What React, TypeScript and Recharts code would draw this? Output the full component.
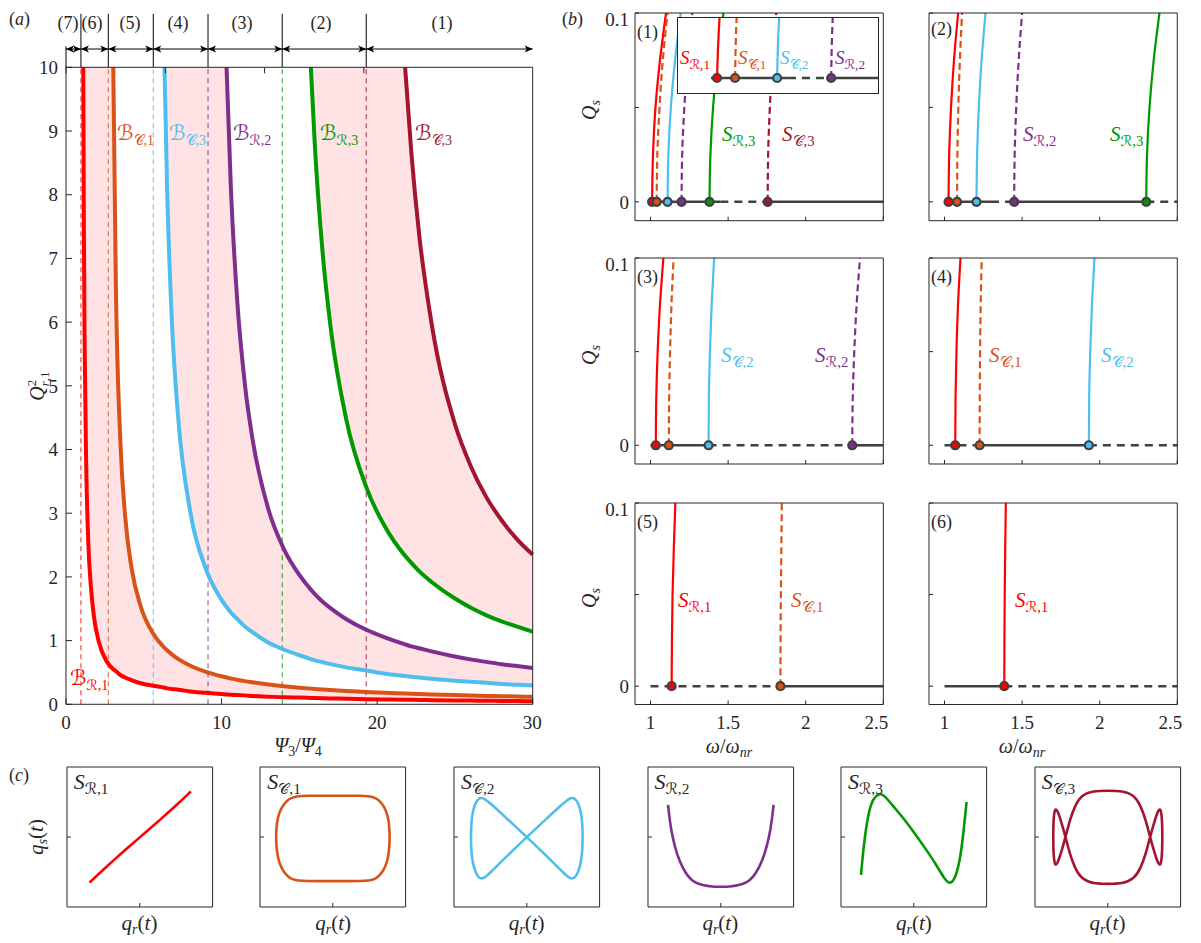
import React from 'react';
import { ComposedChart, Line, Area, Scatter, XAxis, YAxis, ReferenceLine } from 'recharts';

const INK = '#262626';
const BASE = '#404040';
const RED = '#ff0000';
const ORANGE = '#d95319';
const SKY = '#4dbeee';
const PURPLE = '#7e2f8e';
const GREEN = '#009900';
const WINE = '#a2142f';
const SHADE = '#ffe2e4';
const SERIF = '"Liberation Serif", "DejaVu Serif", "DejaVu Sans", serif';

// ---------- (a) boundaries Q_{r,1}^2 vs Psi3/Psi4 ----------
const psiGrid = [
  1.11, 1.15, 1.2, 1.3, 1.43, 1.6, 1.8, 2.1, 2.6, 3.04, 3.2, 3.5, 3.8, 4.2, 4.8, 5.6,
  6.33, 6.5, 6.8, 7.2, 8, 9, 10, 10.32, 10.6, 11, 11.5, 12, 13, 14, 15, 15.74, 16,
  16.5, 17, 18, 19.3, 20.5, 21.8, 22.2, 22.7, 23.5, 25, 26, 27, 28, 29, 30,
];
// each boundary lists the tail of psiGrid, starting where it enters the plot at Q^2 = 10
const bndR1 = [
  10, 7.4, 5.6, 3.75, 2.56, 1.85, 1.37, 0.99, 0.68, 0.55, 0.52, 0.46, 0.42, 0.38, 0.33, 0.29,
  0.26, 0.25, 0.24, 0.23, 0.2, 0.18, 0.16, 0.155, 0.15, 0.145, 0.14, 0.13, 0.12, 0.11, 0.105, 0.1, 0.098,
  0.095, 0.092, 0.087, 0.081, 0.076, 0.071, 0.07, 0.068, 0.065, 0.06, 0.058, 0.055, 0.053, 0.05, 0.048,
];
const bndC1 = [
  10, 6.67, 4.1, 2.96, 2.16, 1.54, 1.11, 0.886, 0.847, 0.784, 0.714, 0.606, 0.51, 0.44, 0.42,
  0.406, 0.386, 0.364, 0.345, 0.311, 0.284, 0.261, 0.246, 0.241, 0.232, 0.224, 0.209, 0.193,
  0.18, 0.168, 0.164, 0.16, 0.154, 0.144, 0.137, 0.132, 0.127, 0.122, 0.117,
];
const bndSky = [
  10, 8.09, 6.05, 4.53, 3.01, 2.12, 1.64, 1.53, 1.44, 1.34, 1.22, 1.13, 0.97, 0.86, 0.77, 0.71,
  0.69, 0.66, 0.63, 0.58, 0.53, 0.48, 0.445, 0.434, 0.421, 0.4, 0.371, 0.353, 0.337, 0.32, 0.308, 0.295,
];
const bndR2 = [
  10, 8.1, 6.36, 5.02, 4.15, 3.07, 2.44, 2.03, 1.8, 1.73, 1.61, 1.51, 1.34, 1.17, 1.05, 0.94,
  0.91, 0.88, 0.83, 0.75, 0.705, 0.666, 0.63, 0.6, 0.57,
];
const bndR3 = [10, 8.76, 7.08, 5.94, 4.49, 3.41, 2.79, 2.33, 2.22, 2.09, 1.92, 1.66, 1.52, 1.4, 1.3, 1.22, 1.14];
const bndWine = [10, 8.66, 7.38, 5.98, 4.4, 3.75, 3.26, 2.89, 2.59, 2.35];

const asymptotes = [0.96, 2.72, 5.61, 9.13, 13.9, 19.3];
const asymptoteColors = [RED, ORANGE, SKY, PURPLE, GREEN, WINE];
const regionEdges = [0, 0.96, 2.72, 5.61, 9.13, 13.9, 19.3, 30];
const regionNames = ['(7)', '(6)', '(5)', '(4)', '(3)', '(2)', '(1)'];

// ---------- (b) bifurcation diagrams, Q_s vs omega/omega_nr ----------
const qsLevels = [0, 0.025, 0.05, 0.075, 0.1];

const p1R1 = [1.01, 1.016, 1.032, 1.061, 1.1];
const p1C1 = [1.04, 1.044, 1.058, 1.079, 1.11];
const p1C2 = [1.11, 1.115, 1.131, 1.158, 1.195];
const p1R2 = [1.2, 1.204, 1.218, 1.239, 1.27];
const p1R3 = [1.38, 1.386, 1.403, 1.431, 1.47];
const p1C3 = [1.755, 1.758, 1.769, 1.786, 1.81];
const p1Solid = [[1.0, 1.128], [1.2, 1.45], [1.755, 2.5]];
const p1Dashed = [[1.128, 1.2], [1.45, 1.755]];

const p2R1 = [1.026, 1.03, 1.042, 1.061, 1.088];
const p2C1 = [1.081, 1.083, 1.089, 1.099, 1.113];
const p2C2 = [1.206, 1.21, 1.221, 1.239, 1.264];
const p2R2 = [1.449, 1.452, 1.462, 1.478, 1.5];
const p2R3 = [2.3, 2.305, 2.321, 2.348, 2.385];
const p2Solid = [[1.0, 1.3], [1.449, 2.3]];
const p2Dashed = [[1.3, 1.449], [2.3, 2.5]];

const p3R1 = [1.034, 1.037, 1.046, 1.061, 1.083];
const p3C1 = [1.118, 1.12, 1.126, 1.135, 1.149];
const p3C2 = [1.374, 1.376, 1.383, 1.394, 1.41];
const p3R2 = [2.3, 2.303, 2.313, 2.328, 2.35];
const p3Solid = [[1.0, 1.374], [2.3, 2.5]];
const p3Dashed = [[1.374, 2.3]];

const p4R1 = [1.069, 1.071, 1.077, 1.087, 1.103];
const p4C1 = [1.226, 1.227, 1.229, 1.233, 1.24];
const p4C2 = [1.93, 1.932, 1.939, 1.95, 1.966];
const p4Solid = [[1.226, 1.93]];
const p4Dashed = [[1.0, 1.226], [1.93, 2.5]];

const p5R1 = [1.136, 1.138, 1.142, 1.15, 1.16];
const p5C1 = [1.837, 1.838, 1.84, 1.843, 1.846];
const p5Solid = [[1.837, 2.5]];
const p5Dashed = [[1.0, 1.837]];

const p6R1 = [1.385, 1.386, 1.388, 1.391, 1.395];
const p6Solid = [[1.0, 1.385]];
const p6Dashed = [[1.385, 2.5]];

// ---------- (c) phase portraits q_s(t) vs q_r(t), normalised ----------
const sr1X = [-0.69, -0.5, -0.3, -0.1, 0.1, 0.3, 0.5, 0.7];
const sr1Y = [-0.65, -0.465, -0.275, -0.095, 0.085, 0.265, 0.45, 0.65];
const sc1X = [
  0, -0.2, -0.355, -0.47, -0.58, -0.64, -0.69, -0.735, -0.76, -0.775, -0.78, -0.775, -0.76, -0.735,
  -0.69, -0.64, -0.58, -0.47, -0.355, -0.2, 0, 0.2, 0.38, 0.49, 0.59, 0.65, 0.7, 0.74, 0.765, 0.778,
  0.782, 0.778, 0.765, 0.74, 0.7, 0.65, 0.59, 0.49, 0.38, 0.2,
];
const sc1Y = [
  0.59, 0.59, 0.59, 0.585, 0.56, 0.51, 0.44, 0.35, 0.25, 0.12, 0, -0.12, -0.26, -0.37,
  -0.47, -0.54, -0.6, -0.625, -0.63, -0.63, -0.63, -0.63, -0.63, -0.625, -0.6, -0.54, -0.47, -0.37, -0.26, -0.12,
  0, 0.12, 0.25, 0.35, 0.44, 0.51, 0.56, 0.585, 0.59, 0.59,
];
const sc2X = [0, 0.3, 0.52, 0.62, 0.7, 0.76, 0.77, 0.76, 0.7, 0.62, 0.52, 0.3, 0, -0.3, -0.52, -0.62, -0.7, -0.76, -0.77, -0.76, -0.7, -0.62, -0.52, -0.3];
const sc2Y = [0, 0.29, 0.5, 0.58, 0.52, 0.3, 0, -0.3, -0.54, -0.62, -0.53, -0.3, 0, 0.29, 0.5, 0.58, 0.52, 0.3, 0, -0.3, -0.54, -0.62, -0.53, -0.3];
const sr2X = [-0.725, -0.7, -0.66, -0.6, -0.52, -0.44, -0.36, -0.25, -0.12, 0, 0.12, 0.25, 0.36, 0.44, 0.52, 0.6, 0.66, 0.7, 0.725];
const sr2Y = [0.46, 0.22, -0.02, -0.26, -0.45, -0.58, -0.65, -0.69, -0.71, -0.71, -0.71, -0.69, -0.65, -0.58, -0.45, -0.26, -0.02, 0.22, 0.46];
const sr3X = [-0.725, -0.7, -0.67, -0.63, -0.58, -0.52, -0.46, -0.4, -0.3, -0.15, 0, 0.15, 0.3, 0.42, 0.48, 0.53, 0.58, 0.63, 0.67, 0.7, 0.725];
const sr3Y = [-0.54, -0.25, 0.02, 0.3, 0.5, 0.59, 0.62, 0.59, 0.46, 0.28, 0.07, -0.15, -0.38, -0.6, -0.66, -0.65, -0.55, -0.35, -0.05, 0.25, 0.5];
const sc3X = [-0.58, -0.52, -0.45, -0.36, -0.2, 0, 0.2, 0.36, 0.45, 0.52, 0.58, 0.64, 0.69, 0.73, 0.75, 0.75, 0.73, 0.69, 0.64, 0.58, 0.52, 0.45, 0.36, 0.2, 0, -0.2, -0.36, -0.45, -0.52, -0.58, -0.64, -0.69, -0.73, -0.75, -0.75, -0.73, -0.69, -0.64];
const sc3Y = [0, 0.25, 0.45, 0.6, 0.66, 0.66, 0.66, 0.6, 0.45, 0.25, 0, -0.22, -0.38, -0.42, -0.2, 0.2, 0.42, 0.38, 0.22, 0, -0.25, -0.45, -0.6, -0.67, -0.67, -0.67, -0.6, -0.45, -0.25, 0, 0.22, 0.38, 0.42, 0.2, -0.2, -0.42, -0.38, -0.22];

// ---------- tables ----------
const tail = (arr: number[], i: number) => {
  const k = i - (psiGrid.length - arr.length);
  return k >= 0 ? arr[k] : null;
};
const boundaryRows = psiGrid.map((x, i) => {
  const r1 = tail(bndR1, i);
  const c1 = tail(bndC1, i);
  const sky = tail(bndSky, i);
  const r2 = tail(bndR2, i);
  const r3 = tail(bndR3, i);
  const wine = tail(bndWine, i);
  return {
    x, r1, c1, sky, r2, r3, wine,
    band1: r1 != null ? [r1, c1 ?? 10] : null,
    band2: sky != null ? [sky, r2 ?? 10] : null,
    band3: r3 != null ? [r3, wine ?? 10] : null,
  };
});

type Branch = { xs: number[]; color: string; dashed: boolean };
const br = (xs: number[], color: string) => ({ xs, color, dashed: color === ORANGE || color === PURPLE || color === WINE });

const LEFT_X = 635.2;
const RIGHT_X = 928.5;
const PB_W = 248.3;

const bifPanels = [
  { x: LEFT_X, y: 13.3, h: 207.7, branches: [br(p1R1, RED), br(p1C1, ORANGE), br(p1C2, SKY), br(p1R2, PURPLE), br(p1R3, GREEN), br(p1C3, WINE)], solid: p1Solid, dashed: p1Dashed, yLab: true, xLab: false },
  { x: RIGHT_X, y: 13.3, h: 207.7, branches: [br(p2R1, RED), br(p2C1, ORANGE), br(p2C2, SKY), br(p2R2, PURPLE), br(p2R3, GREEN)], solid: p2Solid, dashed: p2Dashed, yLab: false, xLab: false },
  { x: LEFT_X, y: 258, h: 206, branches: [br(p3R1, RED), br(p3C1, ORANGE), br(p3C2, SKY), br(p3R2, PURPLE)], solid: p3Solid, dashed: p3Dashed, yLab: true, xLab: false },
  { x: RIGHT_X, y: 258, h: 206, branches: [br(p4R1, RED), br(p4C1, ORANGE), br(p4C2, SKY)], solid: p4Solid, dashed: p4Dashed, yLab: false, xLab: false },
  { x: LEFT_X, y: 503, h: 201.5, branches: [br(p5R1, RED), br(p5C1, ORANGE)], solid: p5Solid, dashed: p5Dashed, yLab: true, xLab: true },
  { x: RIGHT_X, y: 503, h: 201.5, branches: [br(p6R1, RED)], solid: p6Solid, dashed: p6Dashed, yLab: false, xLab: true },
];

const phaseBoxes = [
  { xs: sr1X, ys: sr1Y, color: RED, closed: false },
  { xs: sc1X, ys: sc1Y, color: ORANGE, closed: true },
  { xs: sc2X, ys: sc2Y, color: SKY, closed: true },
  { xs: sr2X, ys: sr2Y, color: PURPLE, closed: false },
  { xs: sr3X, ys: sr3Y, color: GREEN, closed: false },
  { xs: sc3X, ys: sc3Y, color: WINE, closed: true },
];
const BOX_LEFT = 66.7;
const BOX_STEP = 193.6;
const BOX_TOP = 767.3;
const BOX_W = 145.6;
const BOX_H = 140;

const tickFont = { fill: INK, fontSize: 19, fontFamily: SERIF };
const blank = () => '';

// ---------- small drawing helpers ----------
const arrowShape = (p: any) => {
  const { x1, x2, y1 } = p;
  const head = (tip: number, dir: number) =>
    `M${tip},${y1} L${tip - dir * 8},${y1 - 3.5} L${tip - dir * 6},${y1} L${tip - dir * 8},${y1 + 3.5} Z`;
  return (
    <g>
      <line x1={x1} y1={y1} x2={x2} y2={y1} stroke="#000" strokeWidth={1} />
      <path d={head(x1, -1)} fill="#000" />
      <path d={head(x2, 1)} fill="#000" />
    </g>
  );
};

const dotShape = (p: any) => (
  <circle cx={p.cx} cy={p.cy} r={4} fill={p.payload.c} stroke={BASE} strokeWidth={2.2} />
);

function BoundaryChart() {
  return (
    <div style={{ position: 'absolute', left: 0, top: 0 }}>
      <ComposedChart width={541.7} height={745} data={boundaryRows} margin={{ top: 66.3, right: 8, bottom: 8, left: 26 }}>
        <XAxis type="number" dataKey="x" domain={[0, 30]} ticks={[0, 10, 20, 30]} height={32.7} stroke={INK} tickSize={-6} tickMargin={17.7} tick={tickFont} />
        <XAxis xAxisId="top" orientation="top" type="number" domain={[0, 30]} ticks={[0, 10, 20, 30]} height={1} stroke={INK} tickSize={-6} tickFormatter={blank} />
        <YAxis type="number" domain={[0, 10]} ticks={[0, 1, 2, 3, 4, 5, 6, 7, 8, 9, 10]} width={40} stroke={INK} tickSize={-6} tickMargin={14} tick={tickFont} />
        <YAxis yAxisId="right" orientation="right" type="number" domain={[0, 10]} ticks={[0, 1, 2, 3, 4, 5, 6, 7, 8, 9, 10]} width={1} stroke={INK} tickSize={-6} tickFormatter={blank} />
        <Area dataKey="band1" type="monotone" stroke="none" fill={SHADE} fillOpacity={1} isAnimationActive={false} />
        <Area dataKey="band2" type="monotone" stroke="none" fill={SHADE} fillOpacity={1} isAnimationActive={false} />
        <Area dataKey="band3" type="monotone" stroke="none" fill={SHADE} fillOpacity={1} isAnimationActive={false} />
        {asymptotes.map((v, i) => (
          <ReferenceLine key={'as' + i} x={v} stroke={asymptoteColors[i]} strokeOpacity={0.75} strokeDasharray="5 4" strokeWidth={1.2} />
        ))}
        {asymptotes.map((v) => (
          <ReferenceLine key={'sep' + v} segment={[{ x: v, y: 10 }, { x: v, y: 10.84 }]} stroke="#000" strokeWidth={1} ifOverflow="visible" />
        ))}
        <ReferenceLine segment={[{ x: 0, y: 10 }, { x: 0, y: 10.33 }]} stroke="#000" strokeWidth={1} ifOverflow="visible" />
        {regionNames.map((n, i) => (
          <ReferenceLine key={n} segment={[{ x: regionEdges[i], y: 10.287 }, { x: regionEdges[i + 1], y: 10.287 }]} ifOverflow="visible" shape={arrowShape} />
        ))}
        <Line dataKey="r1" type="monotone" stroke={RED} strokeWidth={4} dot={false} activeDot={false} isAnimationActive={false} />
        <Line dataKey="c1" type="monotone" stroke={ORANGE} strokeWidth={4} dot={false} activeDot={false} isAnimationActive={false} />
        <Line dataKey="sky" type="monotone" stroke={SKY} strokeWidth={4} dot={false} activeDot={false} isAnimationActive={false} />
        <Line dataKey="r2" type="monotone" stroke={PURPLE} strokeWidth={4} dot={false} activeDot={false} isAnimationActive={false} />
        <Line dataKey="r3" type="monotone" stroke={GREEN} strokeWidth={4} dot={false} activeDot={false} isAnimationActive={false} />
        <Line dataKey="wine" type="monotone" stroke={WINE} strokeWidth={4} dot={false} activeDot={false} isAnimationActive={false} />
      </ComposedChart>
    </div>
  );
}

function bifSeries(branches: Branch[], solid: number[][], dashed: number[][], key: string) {
  const out: React.ReactNode[] = [];
  solid.forEach((s, i) => out.push(
    <Line key={key + 's' + i} data={[{ x: s[0], y: 0 }, { x: s[1], y: 0 }]} dataKey="y" type="linear" stroke={BASE} strokeWidth={2.6} dot={false} activeDot={false} isAnimationActive={false} />,
  ));
  dashed.forEach((s, i) => out.push(
    <Line key={key + 'd' + i} data={[{ x: s[0], y: 0 }, { x: s[1], y: 0 }]} dataKey="y" type="linear" stroke={BASE} strokeWidth={2.6} strokeDasharray="8 6" dot={false} activeDot={false} isAnimationActive={false} />,
  ));
  branches.forEach((b, i) => out.push(
    <Line key={key + 'b' + i} data={qsLevels.map((q, k) => ({ x: b.xs[k], y: q }))} dataKey="y" type="monotoneY" stroke={b.color} strokeWidth={2.2} strokeDasharray={b.dashed ? '7 4' : undefined} dot={false} activeDot={false} isAnimationActive={false} />,
  ));
  out.push(
    <Scatter key={key + 'pts'} data={branches.map((b) => ({ x: b.xs[0], y: 0, c: b.color }))} shape={dotShape} isAnimationActive={false} />,
  );
  return out;
}

function BifPanel({ x, y, h, branches, solid, dashed, yLab, xLab }: any) {
  const yW = 36;
  const xH = 26;
  const m = 4;
  return (
    <div style={{ position: 'absolute', left: x - yW - m, top: y - 1 - m }}>
      <ComposedChart width={m + yW + PB_W + 1 + m} height={m + 1 + h + xH + m} margin={{ top: m, right: m, bottom: m, left: m }}>
        <XAxis type="number" dataKey="x" domain={[0.9, 2.5]} ticks={[1, 1.5, 2, 2.5]} height={xH} stroke={INK} tickSize={-4} tickMargin={15.5} tick={tickFont} tickFormatter={xLab ? undefined : blank} />
        <XAxis xAxisId="top" orientation="top" type="number" domain={[0.9, 2.5]} ticks={[1, 1.5, 2, 2.5]} height={1} stroke={INK} tickSize={-4} tickFormatter={blank} />
        <YAxis type="number" dataKey="y" domain={[-0.01, 0.1]} ticks={[0, 0.05, 0.1]} width={yW} stroke={INK} tickSize={-4} tickMargin={10} tick={tickFont} tickFormatter={(v: number) => (yLab && v !== 0.05 ? String(v) : '')} />
        <YAxis yAxisId="right" orientation="right" type="number" domain={[-0.01, 0.1]} ticks={[0, 0.05, 0.1]} width={1} stroke={INK} tickSize={-4} tickFormatter={blank} />
        {bifSeries(branches, solid, dashed, 'p')}
      </ComposedChart>
    </div>
  );
}

// magnified view of the first diagram near omega/omega_nr = 1
function Inset() {
  const p = bifPanels[0];
  return (
    <div style={{ position: 'absolute', left: 677.3, top: 17.3, width: 202, height: 77, boxSizing: 'border-box', border: `1px solid ${INK}`, background: '#fff' }}>
      <ComposedChart width={200} height={75} margin={{ top: 0, right: 0, bottom: 0, left: 0 }}>
        <XAxis type="number" dataKey="x" domain={[0.945, 1.278]} hide allowDataOverflow />
        <YAxis type="number" dataKey="y" domain={[-0.005, 0.02]} hide allowDataOverflow />
        {bifSeries(p.branches.slice(0, 4), p.solid, p.dashed, 'i')}
      </ComposedChart>
    </div>
  );
}

function PhaseBox({ i, xs, ys, color, closed }: any) {
  const m = 3;
  const pts = xs.map((v: number, k: number) => ({ x: v, y: ys[k] }));
  return (
    <div style={{ position: 'absolute', left: BOX_LEFT + i * BOX_STEP - 1 - m, top: BOX_TOP - 1 - m }}>
      <ComposedChart width={m + 1 + BOX_W + 1 + m} height={m + 1 + BOX_H + 1 + m} margin={{ top: m, right: m, bottom: m, left: m }}>
        <XAxis type="number" dataKey="x" domain={[-1, 1]} ticks={[0]} height={1} stroke={INK} tickSize={-4} tickFormatter={blank} />
        <XAxis xAxisId="top" orientation="top" type="number" domain={[-1, 1]} ticks={[0]} height={1} stroke={INK} tickSize={-4} tickFormatter={blank} />
        <YAxis type="number" dataKey="y" domain={[-1, 1]} ticks={[0]} width={1} stroke={INK} tickSize={-4} tickFormatter={blank} />
        <YAxis yAxisId="right" orientation="right" type="number" domain={[-1, 1]} ticks={[0]} width={1} stroke={INK} tickSize={-4} tickFormatter={blank} />
        <Line data={pts} dataKey="y" type={closed ? 'basisClosed' : 'basis'} stroke={color} strokeWidth={2.6} dot={false} activeDot={false} isAnimationActive={false} />
      </ComposedChart>
    </div>
  );
}

// ---------- text ----------
type Run = { t: string; it?: boolean; size?: number; dx?: number; dy?: number };
function Tex({ x, y, runs, size = 20, fill = INK, anchor = 'start', rotate = 0 }: { x: number; y: number; runs: Run[]; size?: number; fill?: string; anchor?: 'start' | 'middle' | 'end'; rotate?: number }) {
  return (
    <text x={x} y={y} fill={fill} fontSize={size} fontFamily={SERIF} textAnchor={anchor} transform={rotate ? `rotate(${rotate} ${x} ${y})` : undefined}>
      {runs.map((r, k) => (
        <tspan key={k} fontStyle={r.it ? 'italic' : 'normal'} fontSize={r.size ?? size} dx={r.dx} dy={r.dy}>{r.t}</tspan>
      ))}
    </text>
  );
}

const sLab = (x: number, y: number, sub: string, fill: string, size = 21) => (
  <Tex key={`${x}-${y}-${sub}`} x={x} y={y} fill={fill} size={size} runs={[{ t: 'S', it: true }, { t: sub, size: size * 0.7, dy: 5 }]} />
);
const bLab = (x: number, y: number, sub: string, fill: string) => (
  <Tex key={`${x}-${sub}`} x={x} y={y} fill={fill} size={21} runs={[{ t: 'ℬ' }, { t: sub, size: 14, dy: 5 }]} />
);
const tag = (x: number, y: number, letter: string) => (
  <Tex key={letter} x={x} y={y} size={18} runs={[{ t: '(' }, { t: letter, it: true }, { t: ')' }]} />
);
const plain = (x: number, y: number, s: string, anchor: 'start' | 'middle' = 'start') => (
  <Tex key={`${s}-${x}-${y}`} x={x} y={y} size={18} anchor={anchor} runs={[{ t: s }]} />
);
const qrRuns: Run[] = [{ t: 'q', it: true }, { t: 'r', it: true, size: 14, dy: 4 }, { t: '(', dy: -4 }, { t: 't', it: true }, { t: ')' }];
const qsRuns: Run[] = [{ t: 'q', it: true }, { t: 's', it: true, size: 14, dy: 4 }, { t: '(', dy: -4 }, { t: 't', it: true }, { t: ')' }];
const omegaRuns: Run[] = [{ t: 'ω', it: true }, { t: '/' }, { t: 'ω', it: true }, { t: 'nr', it: true, size: 14, dy: 4 }];
const QsRuns: Run[] = [{ t: 'Q', it: true }, { t: 's', it: true, size: 14, dy: 4 }];

const regionLabelX = [68, 92, 130, 178, 242, 321, 442];
const boxLabels = ['ℛ,1', '𝒞,1', '𝒞,2', 'ℛ,2', 'ℛ,3', '𝒞,3'];

function Annotations() {
  return (
    <svg width={1201} height={943} style={{ position: 'absolute', left: 0, top: 0, pointerEvents: 'none' }}>
      {tag(9, 25, 'a')}
      {tag(562, 25, 'b')}
      {tag(9, 781, 'c')}
      {regionNames.map((n, i) => plain(regionLabelX[i], 29, n, 'middle'))}

      {/* (a) */}
      <Tex x={44} y={386} anchor="middle" rotate={-90} size={20} runs={[{ t: 'Q', it: true }, { t: '2', size: 13, dy: -8 }, { t: 'r', it: true, size: 13, dx: -6.5, dy: 13 }, { t: ',1', size: 13 }]} />
      <Tex x={298} y={752} anchor="middle" size={20} runs={[{ t: 'Ψ', it: true }, { t: '3', size: 14, dy: 4 }, { t: '/', dy: -4 }, { t: 'Ψ', it: true }, { t: '4', size: 14, dy: 4 }]} />
      {bLab(117, 140, '𝒞,1', ORANGE)}
      {bLab(169, 140, '𝒞,3', SKY)}
      {bLab(233, 140, 'ℛ,2', PURPLE)}
      {bLab(320, 140, 'ℛ,3', GREEN)}
      {bLab(415, 140, '𝒞,3', WINE)}
      {bLab(70, 685, 'ℛ,1', RED)}

      {/* (b) */}
      {plain(637, 38, '(1)')}
      {plain(931, 35, '(2)')}
      {plain(637, 283, '(3)')}
      {plain(931, 283, '(4)')}
      {plain(637, 528, '(5)')}
      {plain(931, 528, '(6)')}
      {sLab(722, 141, 'ℛ,3', GREEN)}
      {sLab(782, 141, '𝒞,3', WINE)}
      {sLab(680, 64, 'ℛ,1', RED, 19)}
      {sLab(738, 64, '𝒞,1', ORANGE, 19)}
      {sLab(780, 64, '𝒞,2', SKY, 19)}
      {sLab(835, 64, 'ℛ,2', PURPLE, 19)}
      {sLab(1023, 141, 'ℛ,2', PURPLE)}
      {sLab(1110, 141, 'ℛ,3', GREEN)}
      {sLab(721, 362, '𝒞,2', SKY)}
      {sLab(815, 362, 'ℛ,2', PURPLE)}
      {sLab(989, 362, '𝒞,1', ORANGE)}
      {sLab(1101, 362, '𝒞,2', SKY)}
      {sLab(678, 607, 'ℛ,1', RED)}
      {sLab(791, 607, '𝒞,1', ORANGE)}
      {sLab(1015, 607, 'ℛ,1', RED)}
      {[110, 355, 598].map((cy) => (
        <Tex key={'qs' + cy} x={596} y={cy} anchor="middle" rotate={-90} size={20} runs={QsRuns} />
      ))}
      <Tex x={729} y={753} anchor="middle" size={20} runs={omegaRuns} />
      <Tex x={1022} y={753} anchor="middle" size={20} runs={omegaRuns} />

      {/* (c) */}
      <Tex x={43} y={837} anchor="middle" rotate={-90} size={21} runs={qsRuns} />
      {boxLabels.map((sub, i) => sLab(BOX_LEFT + i * BOX_STEP + 7, 789, sub, INK, 22))}
      {boxLabels.map((_, i) => (
        <Tex key={'qr' + i} x={BOX_LEFT + i * BOX_STEP + BOX_W / 2} y={930} anchor="middle" size={21} runs={qrRuns} />
      ))}
    </svg>
  );
}

export default function App() {
  return (
    <div style={{ position: 'absolute', left: 0, top: 0, width: 1201, height: 943, background: '#fff' }}>
      <BoundaryChart />
      {bifPanels.map((p, i) => <BifPanel key={i} {...p} />)}
      <Inset />
      {phaseBoxes.map((b, i) => <PhaseBox key={i} i={i} {...b} />)}
      <Annotations />
    </div>
  );
}
